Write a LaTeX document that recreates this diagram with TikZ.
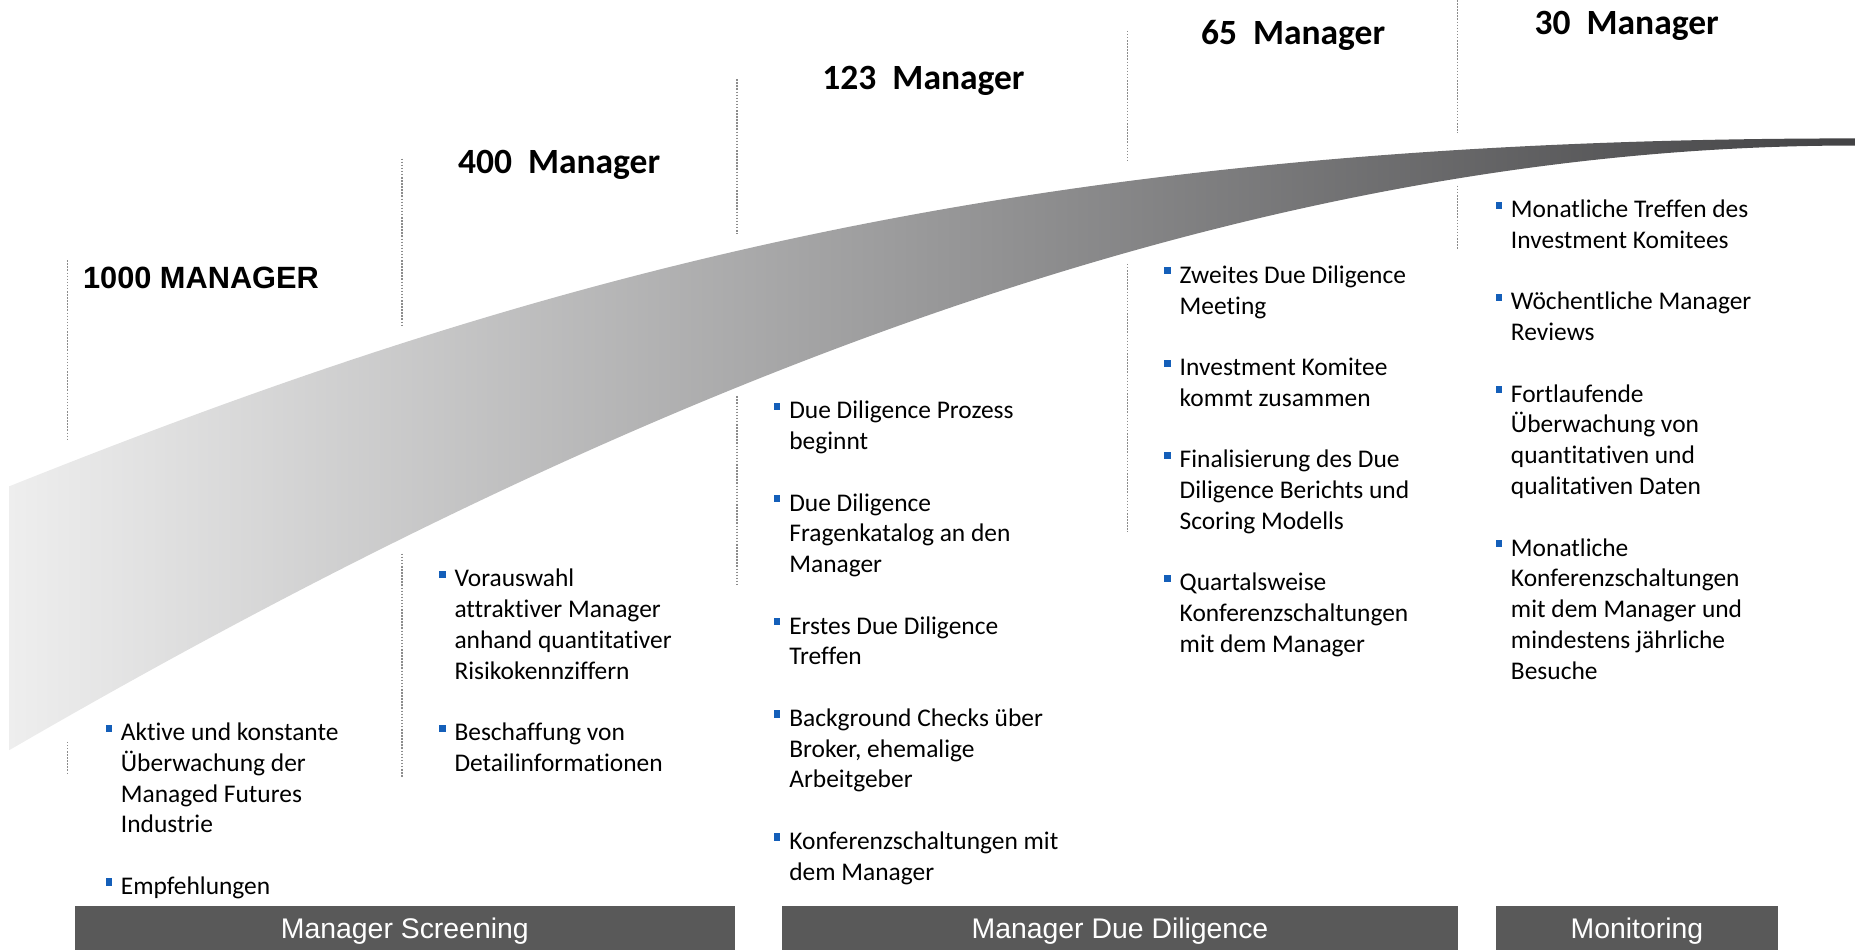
\documentclass[tikz,border=0pt]{standalone}
\usepackage{fontspec}
\setmainfont{Carlito}[Ligatures=NoCommon]
\newfontfamily\arialf{Liberation Sans}
\definecolor{bblue}{RGB}{20,95,185}
\definecolor{barcol}{RGB}{89,89,89}
\definecolor{swL}{RGB}{238,238,238}
\definecolor{swR}{RGB}{66,66,68}
\definecolor{dotcol}{RGB}{140,140,140}
\newcommand\bodyfont{\fontsize{21.5pt}{26pt}\selectfont}
\newcommand\headfont{\fontsize{30pt}{36pt}\selectfont\bfseries}
\newcommand\bl{\leavevmode\llap{\textcolor{bblue}{\rule[7.5pt]{5.5pt}{6pt}}\hspace{7.5pt}}}
\newcommand\gap{\\[26pt]}
\tikzset{
  dotline/.style={draw=dotcol, line width=1.3pt, dash pattern=on 1.3pt off 1.3pt},
  colbox/.style={anchor=base west, inner sep=0pt, font=\bodyfont},
  head/.style={anchor=base west, inner sep=0pt, font=\headfont},
  barbox/.style={fill=barcol, text=white, anchor=north west, inner sep=0pt,
    minimum height=37pt, text height=17pt, text depth=0pt,
    font=\arialf\fontsize{24pt}{28pt}\selectfont},
}
\begin{document}
\begin{tikzpicture}[x=1pt,y=-1pt]
\useasboundingbox (0,0) rectangle (1568,803);
% swoosh
\shade[left color=swL, right color=swR]
  (8,411) .. controls (458,231) and (868,117) .. (1568,117)
  -- (1568,123) .. controls (1068,123) and (558,315) .. (8,634)
  -- cycle;
% dotted lines
\draw[dotline] (57,220) -- (57,372);
\draw[dotline] (57,627) -- (57,655);
\draw[dotline] (340,134) -- (340,276);
\draw[dotline] (340,468) -- (340,657);
\draw[dotline] (623,67) -- (623,198);
\draw[dotline] (623,335) -- (623,495);
\draw[dotline] (953,26) -- (953,137);
\draw[dotline] (953,223) -- (953,450);
\draw[dotline] (1232,0) -- (1232,112);
\draw[dotline] (1232,157) -- (1232,211);
% headings
\node[anchor=base west, inner sep=0pt, font=\arialf\bfseries\fontsize{26pt}{30pt}\selectfont] (h1) at (70,244) {1000 MANAGER};
\node[head] (h2) at (387,147) {400~~Manager};
\node[head] (h3) at (695,76) {123~~Manager};
\node[head] (h4) at (1015,38) {65~~Manager};
\node[head] (h5) at (1297,29) {30~~Manager};
% columns
\node[colbox] (c1) at (102,626) {\parbox[t]{260pt}{\bodyfont
  \bl Aktive und konstante\\
  Überwachung der\\
  Managed Futures\\
  Industrie\gap
  \bl Empfehlungen}};
\node[colbox] (c2) at (384,496) {\parbox[t]{260pt}{\bodyfont
  \bl Vorauswahl\\
  attraktiver Manager\\
  anhand quantitativer\\
  Risikokennziffern\gap
  \bl Beschaffung von\\
  Detailinformationen}};
\node[colbox] (c3) at (667,354) {\parbox[t]{280pt}{\bodyfont
  \bl Due Diligence Prozess\\
  beginnt\gap
  \bl Due Diligence\\
  Fragenkatalog an den\\
  Manager\gap
  \bl Erstes Due Diligence\\
  Treffen\gap
  \bl Background Checks über\\
  Broker, ehemalige\\
  Arbeitgeber\gap
  \bl Konferenzschaltungen mit\\
  dem Manager}};
\node[colbox] (c4) at (997,239.5) {\parbox[t]{260pt}{\bodyfont
  \bl Zweites Due Diligence\\
  Meeting\gap
  \bl Investment Komitee\\
  kommt zusammen\gap
  \bl Finalisierung des Due\\
  Diligence Berichts und\\
  Scoring Modells\gap
  \bl Quartalsweise\\
  Konferenzschaltungen\\
  mit dem Manager}};
\node[colbox] (c5) at (1277,184) {\parbox[t]{260pt}{\bodyfont
  \bl Monatliche Treffen des\\
  Investment Komitees\gap
  \bl Wöchentliche Manager\\
  Reviews\gap
  \bl Fortlaufende\\
  Überwachung von\\
  quantitativen und\\
  qualitativen Daten\gap
  \bl Monatliche\\
  Konferenzschaltungen\\
  mit dem Manager und\\
  mindestens jährliche\\
  Besuche}};
% bars
\node[barbox, minimum width=558pt] (b1) at (63,766) {Manager Screening};
\node[barbox, minimum width=571pt] (b2) at (661,766) {Manager Due Diligence};
\node[barbox, minimum width=239pt] (b3) at (1264,766) {Monitoring};
\end{tikzpicture}
\end{document}
